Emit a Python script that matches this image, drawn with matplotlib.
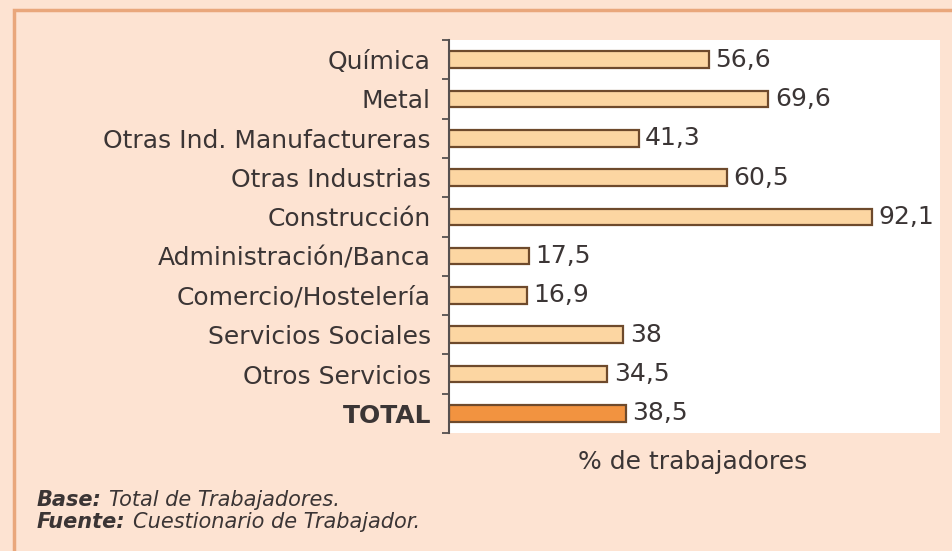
import matplotlib.pyplot as plt
from matplotlib.patches import Rectangle
import numpy as np

plt.rcParams['font.family'] = ['DejaVu Sans']

# datos
sectores = ["Química", "Metal", "Otras Ind. Manufactureras", "Otras Industrias",
            "Construcción", "Administración/Banca", "Comercio/Hostelería",
            "Servicios Sociales", "Otros Servicios", "TOTAL"]
porcentajes = [56.6, 69.6, 41.3, 60.5, 92.1, 17.5, 16.9, 38, 34.5, 38.5]
etiquetas = ["56,6", "69,6", "41,3", "60,5", "92,1", "17,5", "16,9", "38", "34,5", "38,5"]

fondo = "#fde3d2"
texto = "#3b3535"
relleno = "#fcd6a2"
relleno_total = "#f29340"
borde = "#6e4a2c"
fs = 18
fs_nota = 15

fig = plt.figure(figsize=(9.52, 5.51), dpi=100)
fig.patch.set_facecolor(fondo)
fig.patches.append(Rectangle((14 / 952, -0.05), 1.0, 1 - 10 / 551 + 0.05,
                             transform=fig.transFigure, fill=False,
                             edgecolor="#e9a77c", linewidth=2.5))

ax = fig.add_axes([449 / 952, 1 - 433 / 551, 491 / 952, 393 / 551])
ax.set_facecolor("white")

y = np.arange(len(sectores))
colores = [relleno] * (len(sectores) - 1) + [relleno_total]
ax.barh(y, porcentajes, height=0.42, color=colores, edgecolor=borde, linewidth=1.6)

for yi, v, et in zip(y, porcentajes, etiquetas):
    ax.text(v + 1.4, yi, et, va="center", ha="left", fontsize=fs, color=texto)

ax.set_ylim(len(sectores) - 0.5, -0.5)
ax.set_xlim(0, 107)
ax.set_yticks(y)
ax.set_yticklabels(sectores, fontsize=fs, color=texto)
ax.get_yticklabels()[-1].set_fontweight("bold")
ax.tick_params(axis="y", which="major", length=0, pad=13)
ax.set_yticks(np.arange(-0.5, len(sectores), 1), minor=True)
ax.tick_params(axis="y", which="minor", length=5, width=1.3, color="#555050", direction="out")
ax.set_xticks([])
for s in ["top", "right", "bottom"]:
    ax.spines[s].set_visible(False)
ax.spines["left"].set_color("#555050")
ax.spines["left"].set_linewidth(1.5)

fig.text(693 / 952, 1 - 462 / 551, "% de trabajadores", ha="center", va="center",
         fontsize=fs, color=texto)

# nota al pie: parte en negrita seguida del texto normal
renderer = fig.canvas.get_renderer()
for fila, (negrita, resto) in enumerate([("Base:", "Total de Trabajadores."),
                                         ("Fuente:", "Cuestionario de Trabajador.")]):
    yy = 1 - (500 + 22 * fila) / 551
    t = fig.text(37 / 952, yy, negrita, ha="left", va="center", fontsize=fs_nota,
                 color=texto, style="italic", fontweight="bold")
    x1 = t.get_window_extent(renderer).x1
    fig.text((x1 + 7) / 952, yy, resto, ha="left", va="center", fontsize=fs_nota,
             color=texto, style="italic")

fig.savefig("out.png", dpi=100, facecolor=fig.get_facecolor())
